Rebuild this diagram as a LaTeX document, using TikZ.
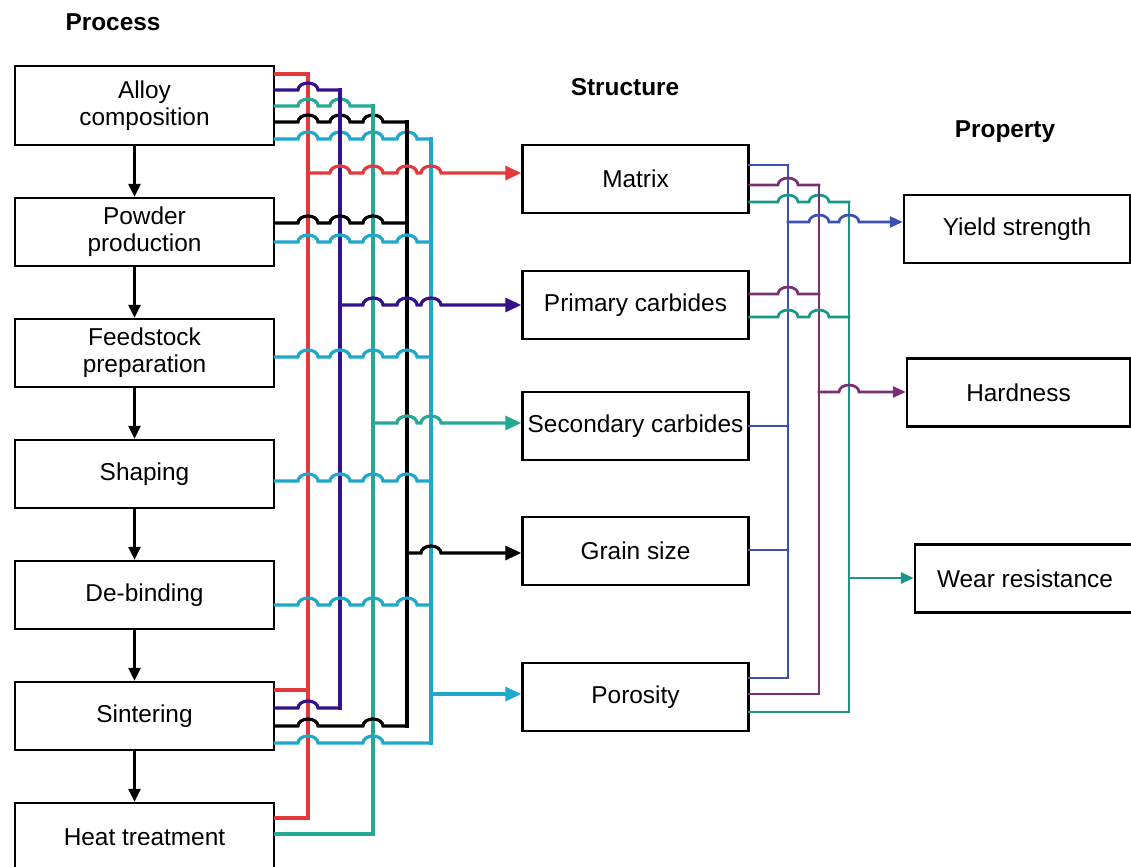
\documentclass[tikz,border=0pt]{standalone}
\usepackage{fontspec}
\setmainfont{Liberation Sans}
\usetikzlibrary{arrows.meta, positioning}

\definecolor{cred}{HTML}{E23A3C}
\definecolor{cindigo}{HTML}{33128C}
\definecolor{cteal}{HTML}{25A894}
\definecolor{ccyan}{HTML}{1EA8CC}
\definecolor{rblue}{HTML}{3C50B4}
\definecolor{rpurple}{HTML}{7A2F74}
\definecolor{rteal}{HTML}{1A9686}

\tikzset{
  pbox/.style={draw, line width=1.2pt, minimum width=129.5pt, minimum height=34pt,
    align=center, inner sep=2pt, font=\fontsize{12.2}{13.5}\selectfont},
  sbox/.style={pbox, minimum width=113pt},
  title/.style={font=\bfseries\fontsize{12.2}{14}\selectfont},
  flow/.style={line width=1.2pt, -{Triangle[length=6.5pt,width=6pt]}},
  wire/.style={line width=1.6pt, line cap=rect},
  vire/.style={line width=1.35pt, line cap=rect},
  arr/.style={-{Triangle[length=8pt,width=7pt]}},
  arrs/.style={-{Triangle[length=6.5pt,width=5.5pt]}},
}

% horizontal wire that hops over the buses listed in #5
\newcommand{\hopwire}[5][]{%
  \draw[#1] (#2) \foreach \hx in {#5} {-- (\hx-10,#4) arc[start angle=180, end angle=0, x radius=10, y radius=7]} -- (#3);}

\begin{document}
\begin{tikzpicture}[x=0.5pt, y=0.5pt, node distance=25.3pt]
\useasboundingbox (0,0) rectangle (1131,-867);

% column titles
\node[title] (tproc) at (113,-22) {Process};
\node[title] (tstruct) at (625,-87) {Structure};
\node[title] (tprop) at (1005,-132) {Property};

% process steps
\node[pbox, minimum height=39.5pt] (alloy) at (144.5,-105.5) {Alloy\\composition};
\node[pbox, below=of alloy] (powder) {Powder\\production};
\node[pbox, below=of powder] (feed) {Feedstock\\preparation};
\node[pbox, below=of feed] (shape) {Shaping};
\node[pbox, below=of shape] (debind) {De-binding};
\node[pbox, below=of debind] (sinter) {Sintering};
\node[pbox, below=of sinter] (heat) {Heat treatment};

\foreach \a/\b in {alloy/powder, powder/feed, feed/shape, shape/debind, debind/sinter, sinter/heat}
  \draw[flow] ([xshift=-5pt]\a.south) -- ([xshift=-5pt]\b.north);

% structure
\node[sbox] (matrix) at (635.5,-179) {Matrix};
\node[sbox, below=27.8pt of matrix] (prim) {Primary carbides};
\node[sbox, below=25.3pt of prim] (sec) {Secondary carbides};
\node[sbox, below=27.3pt of sec] (grain) {Grain size};
\node[sbox, below=37.8pt of grain] (poro) {Porosity};

% properties
\node[sbox] (yield) at (1017,-229) {Yield strength};
\node[sbox, minimum width=111.5pt] (hard) at (1018.5,-392.5) {Hardness};
\node[sbox, minimum width=110pt] (wear) at (1025,-578.5) {Wear resistance};

% process -> structure buses
\draw[wire, cred] (alloy.east |- 0,-74) -- (308,-74) -- (308,-818) -- (heat.east |- 0,-818);
\hopwire[wire, cindigo]{alloy.east |- 0,-90}{340,-90}{-90}{308}
\hopwire[wire, cteal]{alloy.east |- 0,-106}{373,-106}{-106}{308,340}
\hopwire[wire, black]{alloy.east |- 0,-122}{407,-122}{-122}{308,340,373}
\hopwire[wire, ccyan]{alloy.east |- 0,-139}{431,-139}{-139}{308,340,373,407}
\draw[wire, cindigo] (340,-90) -- (340,-708);
\draw[wire, cteal] (373,-106) -- (373,-834);
\draw[wire, black] (407,-122) -- (407,-726);
\draw[wire, ccyan] (431,-139) -- (431,-743);

\hopwire[wire, black]{powder.east |- 0,-223}{407,-223}{-223}{308,340,373}
\hopwire[wire, ccyan]{powder.east |- 0,-242}{431,-242}{-242}{308,340,373,407}
\hopwire[wire, ccyan]{feed.east |- 0,-357}{431,-357}{-357}{308,340,373,407}
\hopwire[wire, ccyan]{shape.east |- 0,-481}{431,-481}{-481}{308,340,373,407}
\hopwire[wire, ccyan]{debind.east |- 0,-605}{431,-605}{-605}{308,340,373,407}

\draw[wire, cred] (sinter.east |- 0,-690) -- (308,-690);
\hopwire[wire, cindigo]{sinter.east |- 0,-708}{340,-708}{-708}{308}
\hopwire[wire, black]{sinter.east |- 0,-726}{407,-726}{-726}{308,373}
\hopwire[wire, ccyan]{sinter.east |- 0,-743}{431,-743}{-743}{308,373}
\draw[wire, cteal] (heat.east |- 0,-834) -- (373,-834);

\hopwire[wire, cred, arr]{308,-173}{matrix.west |- 0,-173}{-173}{340,373,407,431}
\hopwire[wire, cindigo, arr]{340,-305}{prim.west |- 0,-305}{-305}{373,407,431}
\hopwire[wire, cteal, arr]{373,-423}{sec.west |- 0,-423}{-423}{407,431}
\hopwire[wire, black, arr]{407,-553}{grain.west |- 0,-553}{-553}{431}
\draw[wire, ccyan, arr] (431,-694) -- (poro.west |- 0,-694);

% structure -> property buses
\draw[vire, rblue] (matrix.east |- 0,-165) -- (788,-165) -- (788,-678) -- (poro.east |- 0,-678);
\hopwire[vire, rpurple]{matrix.east |- 0,-185}{819,-185}{-185}{788}
\hopwire[vire, rteal]{matrix.east |- 0,-202}{849,-202}{-202}{788,819}
\draw[vire, rpurple] (819,-185) -- (819,-694) -- (poro.east |- 0,-694);
\draw[vire, rteal] (849,-202) -- (849,-712) -- (poro.east |- 0,-712);
\hopwire[vire, rpurple]{prim.east |- 0,-294}{819,-294}{-294}{788}
\hopwire[vire, rteal]{prim.east |- 0,-317}{849,-317}{-317}{788,819}
\draw[vire, rblue] (sec.east |- 0,-426) -- (788,-426);
\draw[vire, rblue] (grain.east |- 0,-550) -- (788,-550);

\hopwire[vire, rblue, arrs]{788,-222}{yield.west |- 0,-222}{-222}{819,849}
\hopwire[vire, rpurple, arrs]{819,-392}{hard.west |- 0,-392}{-392}{849}
\draw[vire, rteal, arrs] (849,-578) -- (wear.west |- 0,-578);
\end{tikzpicture}
\end{document}
